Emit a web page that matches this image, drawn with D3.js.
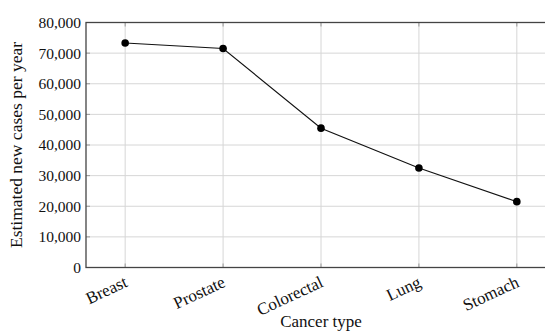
<!DOCTYPE html>
<html>
<head>
<meta charset="utf-8">
<script src="https://cdn.jsdelivr.net/npm/d3@7"></script>
<style>
  body { margin: 0; background: #fff; }
  svg text { font-family: "Liberation Serif", "DejaVu Serif", serif; fill: #111; }
</style>
</head>
<body>
<div id="chart"></div>
<script>
// Data
const cancerTypes = ["Breast", "Prostate", "Colorectal", "Lung", "Stomach"];
const newCases = [73300, 71500, 45500, 32500, 21500];
const yTicks = [0, 10000, 20000, 30000, 40000, 50000, 60000, 70000, 80000];

const width = 545, height = 331;
const plotLeft = 86, plotRight = 556, plotTop = 22.5, plotBottom = 267.5;

const svg = d3.select("#chart").append("svg")
    .attr("width", width)
    .attr("height", height);

const x = d3.scalePoint()
    .domain(cancerTypes)
    .range([plotLeft, plotRight])
    .padding(0.4);

const y = d3.scaleLinear()
    .domain([0, 80000])
    .range([plotBottom, plotTop]);

// grid lines
const grid = svg.append("g").attr("stroke", "#d6d6d6").attr("stroke-width", 1);
grid.selectAll("line.h")
    .data(yTicks.slice(1, -1))
    .enter().append("line")
    .attr("x1", plotLeft).attr("x2", plotRight)
    .attr("y1", d => y(d)).attr("y2", d => y(d));
grid.selectAll("line.v")
    .data(cancerTypes)
    .enter().append("line")
    .attr("x1", d => x(d)).attr("x2", d => x(d))
    .attr("y1", plotTop).attr("y2", plotBottom);

// small inner tick marks
const ticks = svg.append("g").attr("stroke", "#999").attr("stroke-width", 1);
ticks.selectAll("line.yt")
    .data(yTicks)
    .enter().append("line")
    .attr("x1", plotLeft).attr("x2", plotLeft + 4)
    .attr("y1", d => y(d)).attr("y2", d => y(d));
ticks.selectAll("line.xt")
    .data(cancerTypes)
    .enter().append("line")
    .attr("x1", d => x(d)).attr("x2", d => x(d))
    .attr("y1", plotBottom).attr("y2", plotBottom - 4);
ticks.selectAll("line.xt2")
    .data(cancerTypes)
    .enter().append("line")
    .attr("x1", d => x(d)).attr("x2", d => x(d))
    .attr("y1", plotTop).attr("y2", plotTop + 4);

// frame
svg.append("rect")
    .attr("x", plotLeft).attr("y", plotTop)
    .attr("width", plotRight - plotLeft).attr("height", plotBottom - plotTop)
    .attr("fill", "none")
    .attr("stroke", "#444")
    .attr("stroke-width", 1.3);

// y axis labels
const yAxis = d3.axisLeft(y)
    .tickValues(yTicks)
    .tickFormat(d3.format(","))
    .tickSize(0)
    .tickPadding(5);
svg.append("g")
    .attr("transform", `translate(${plotLeft},0)`)
    .call(yAxis)
    .call(g => g.select(".domain").remove())
    .call(g => g.selectAll("text")
        .style("font-family", "'Liberation Serif', serif")
        .style("font-size", "15.5px")
        .attr("fill", "#111"));

// x axis labels (rotated)
svg.append("g")
    .selectAll("text")
    .data(cancerTypes)
    .enter().append("text")
    .attr("transform", d => `translate(${x(d) - 2},${plotBottom + 7}) rotate(-25)`)
    .attr("text-anchor", "end")
    .attr("dy", "0.75em")
    .style("font-size", "17px")
    .text(d => d);

// line + markers
const line = d3.line()
    .x((d, i) => x(cancerTypes[i]))
    .y(d => y(d));

svg.append("path")
    .datum(newCases)
    .attr("fill", "none")
    .attr("stroke", "#111")
    .attr("stroke-width", 1.1)
    .attr("d", line);

svg.append("g")
    .selectAll("circle")
    .data(newCases)
    .enter().append("circle")
    .attr("cx", (d, i) => x(cancerTypes[i]))
    .attr("cy", d => y(d))
    .attr("r", 3.8)
    .attr("fill", "#000");

// axis titles
svg.append("text")
    .attr("x", (plotLeft + plotRight) / 2)
    .attr("y", 327)
    .attr("text-anchor", "middle")
    .style("font-size", "17px")
    .text("Cancer type");

svg.append("text")
    .attr("transform", `translate(22,${(plotTop + plotBottom) / 2}) rotate(-90)`)
    .attr("text-anchor", "middle")
    .style("font-size", "17.5px")
    .text("Estimated new cases per year");
</script>
</body>
</html>
